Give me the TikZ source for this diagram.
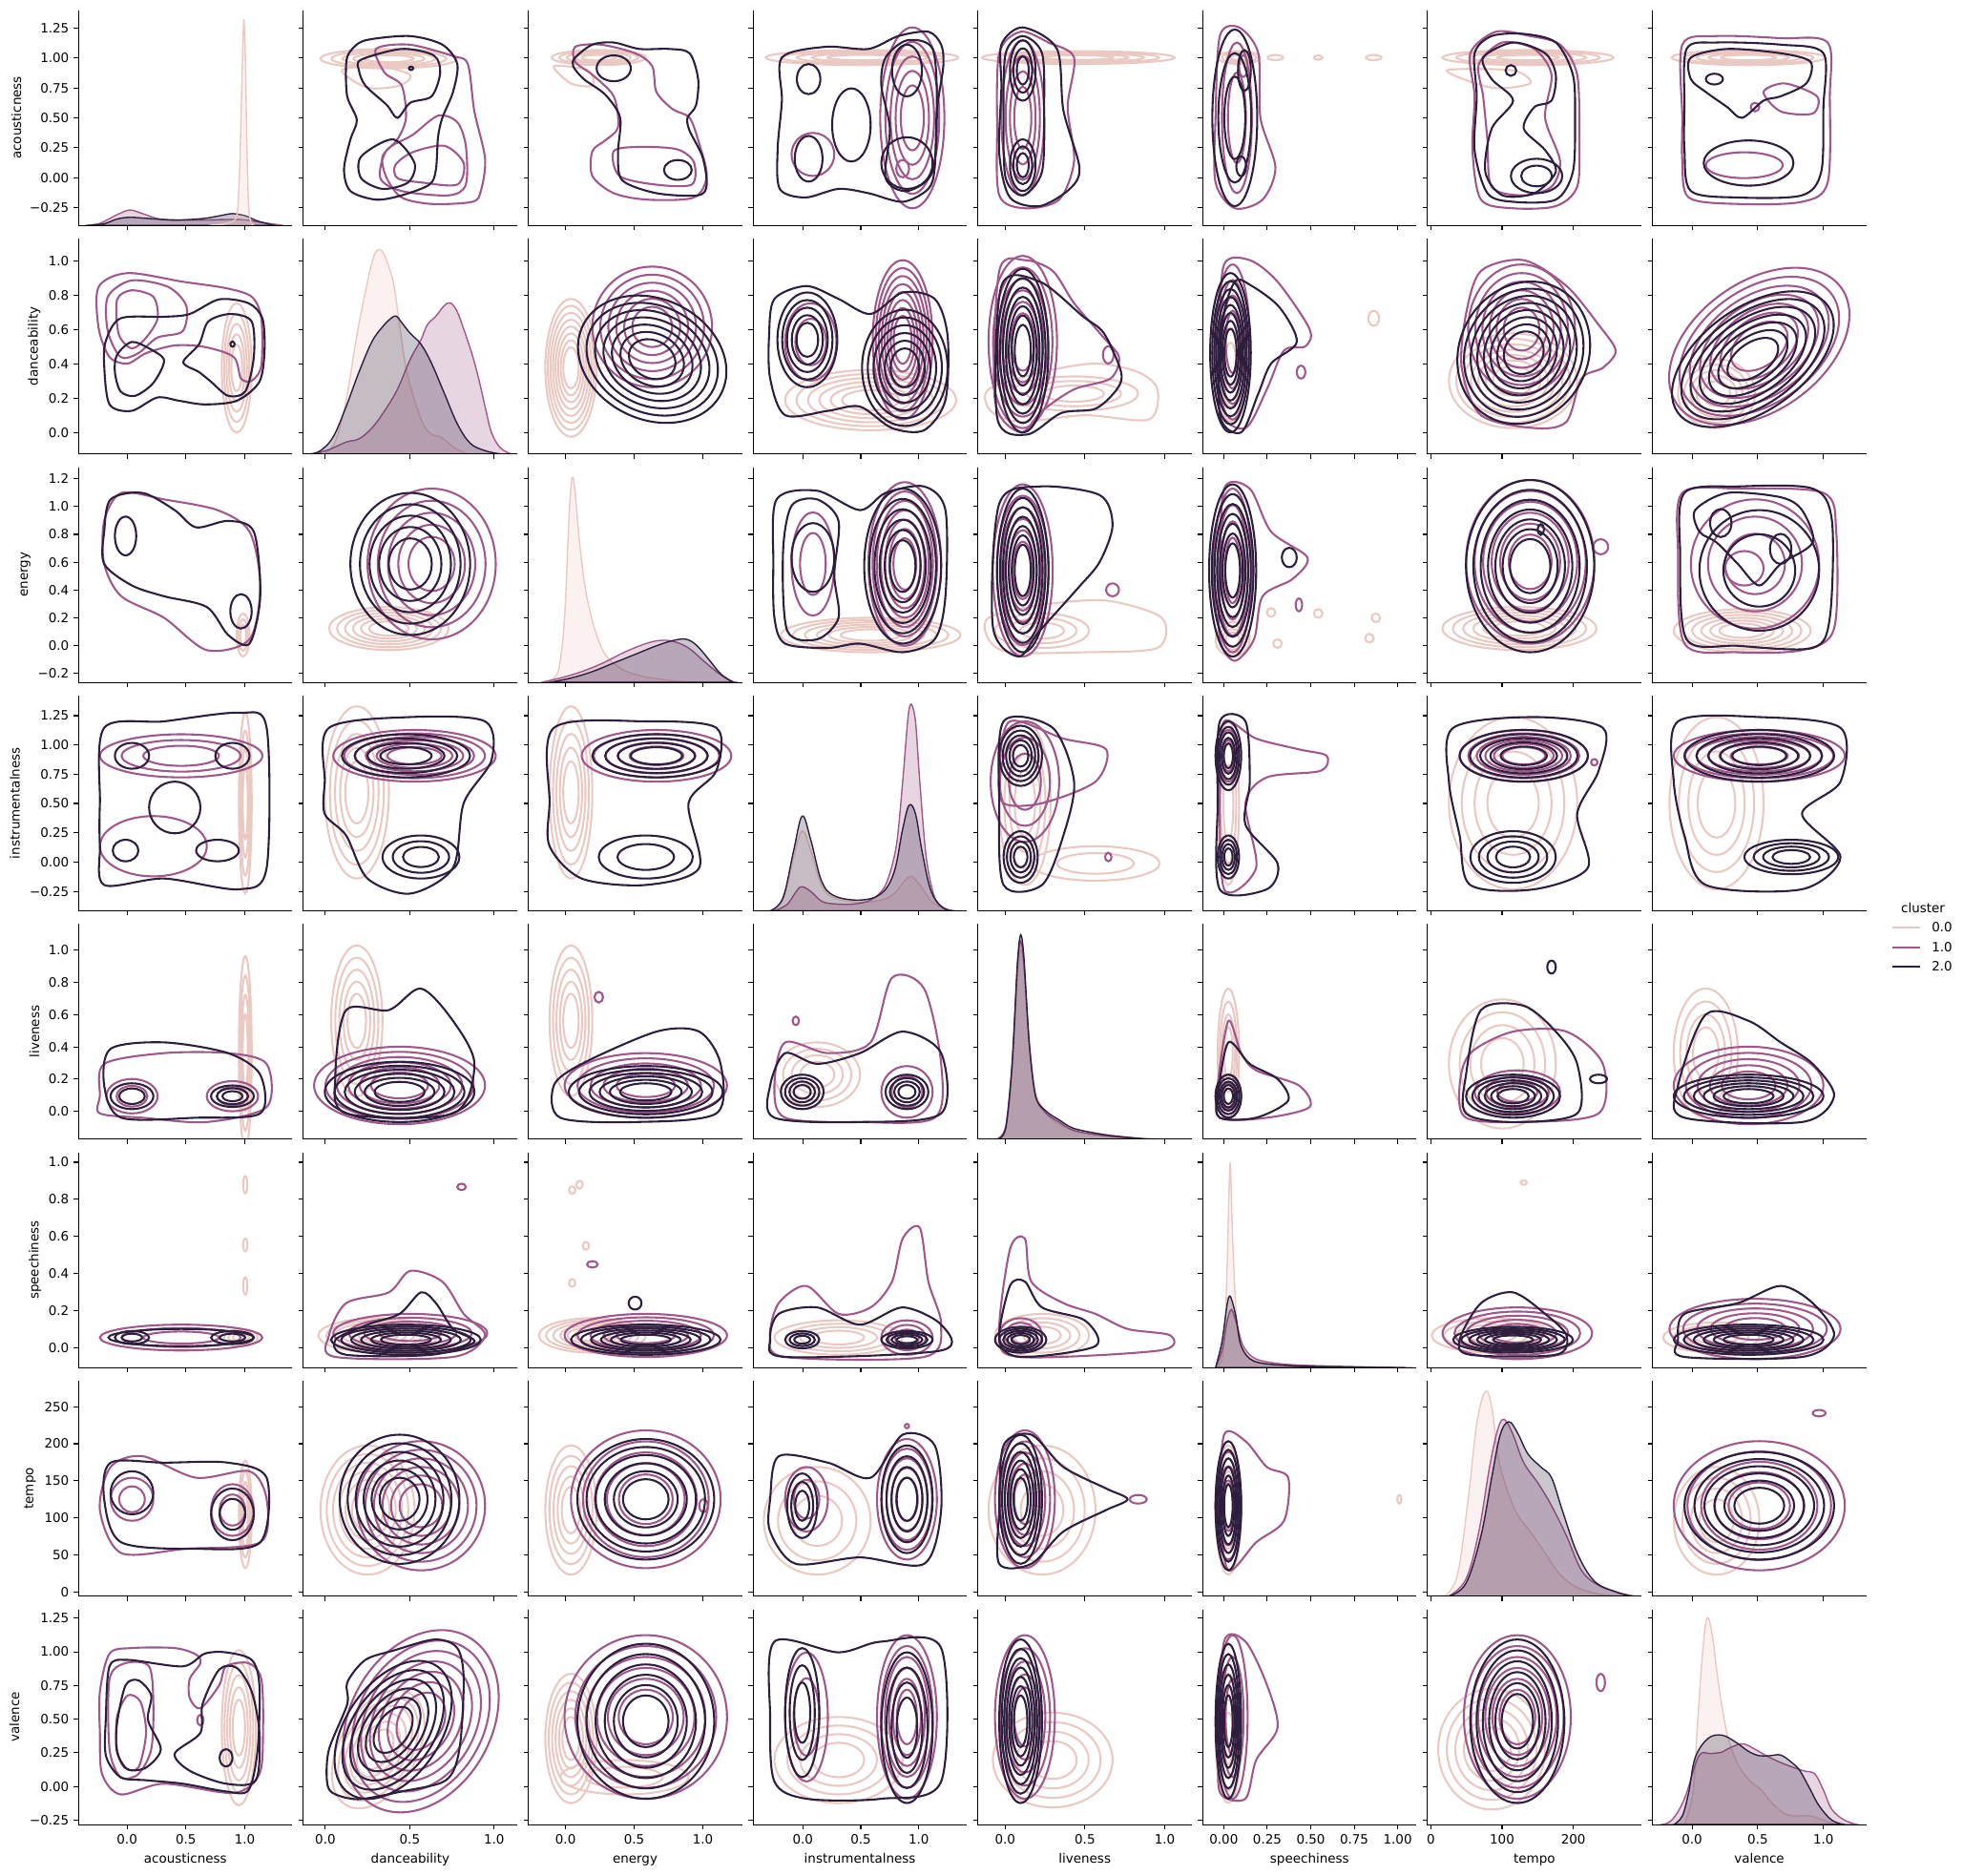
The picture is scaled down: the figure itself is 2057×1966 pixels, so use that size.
\documentclass[tikz,border=0pt]{standalone}
\usepackage{fontspec}
\setmainfont{DejaVu Sans}
\definecolor{clA}{HTML}{EBC9C3}
\definecolor{clB}{HTML}{A0588A}
\definecolor{clC}{HTML}{2D1E3E}
\tikzset{
  c0/.style={draw=clA, line width=1.5pt},
  c1/.style={draw=clB, line width=1.5pt},
  c2/.style={draw=clC, line width=1.5pt},
  k0/.style={draw=clA, fill=clA, fill opacity=0.25, line width=1pt},
  k1/.style={draw=clB, fill=clB, fill opacity=0.25, line width=1pt},
  k2/.style={draw=clC, fill=clC, fill opacity=0.25, line width=1pt},
  spine/.style={line width=0.8pt},
  tlab/.style={font=\fontsize{9.7}{11.6}\selectfont, inner sep=0pt},
  panel/.style 2 args={shift={({82.3+(#2-1)*235.6},{236.3+(#1-1)*239.4})}, xscale=2.24, yscale=-2.256},
}
% nested kde rings: [angle]{style}{cx}{cy}{rx}{ry}{levels}
\newcommand{\rings}[7][0]{%
  \foreach \k in {1,...,#7}{%
    \pgfmathsetmacro{\rf}{1-(\k-1)*0.8/#7}%
    \draw[#2, rotate around={#1:(#3,#4)}] (#3,#4) ellipse [x radius={#5*\rf}, y radius={#6*\rf}];
  }}
\begin{document}
\begin{tikzpicture}[x=0.72pt, y=-0.72pt]
\useasboundingbox (0,0) rectangle (2057,1966);

%% row 1: acousticness
\begin{scope}[panel={1}{1}]
\clip (0,0) rectangle (100,100);
\filldraw[k1] plot[smooth, tension=0.5] coordinates {(3,0) (10,1) (18,5) (24,7.2) (30,5.5) (38,3) (50,2.5) (62,2.6) (70,2.8) (78,2.6) (85,1.5) (96,0)} -- cycle;
\filldraw[k2] plot[smooth, tension=0.5] coordinates {(4,0) (12,0.8) (18,3) (24,3.8) (32,3.3) (45,2.5) (58,3.2) (66,4.5) (72,5.5) (78,4.5) (84,2) (92,0)} -- cycle;
\filldraw[k0] plot[smooth, tension=0.4] coordinates {(61,0) (66,0.5) (70,1.2) (73,2.5) (74.5,8) (75.5,30) (76.5,70) (77.3,95.5) (78,80) (78.7,40) (79.5,10) (80.5,2) (82,0)} -- cycle;
\end{scope}
\begin{scope}[panel={1}{2}]
\clip (0,0) rectangle (100,100);
\rings{c0}{40}{77.5}{32}{4.5}{5}
\draw[c0] plot[smooth cycle] coordinates {(18,72) (30,64) (45,65) (50,70) (35,74)};
\draw[c1] plot[smooth cycle] coordinates {(34,82) (49.6,84) (70,78.7) (76.9,75) (80,53) (85,31) (83,16) (79,11) (60,10) (46,13) (39,22) (37,32) (44,40) (48,50) (46,65) (38,71)};
\draw[c1] plot[smooth cycle] coordinates {(36,22) (39,35) (51,42) (63,51) (72,48) (76,37) (76,19) (68,14) (46,16)};
\draw[c1] plot[smooth cycle] coordinates {(43,28) (51,34) (66,37) (75,29) (72,19) (55,20) (44,22)};
\draw[c2] plot[smooth cycle] coordinates {(29,86) (49.6,88) (65,84) (72,75) (70,62) (65,50) (63,41) (62,26) (59,19) (46,14) (34,12) (22,16) (19,26) (22,40) (25,49) (20.5,60) (20,75) (22,81)};
\draw[c2] plot[smooth cycle] coordinates {(27,77) (46,82) (61,79) (64,71) (60,60) (50,57) (44,50) (39,56) (29,65) (26,72)};
\draw[c2] plot[smooth cycle] coordinates {(27,32) (42,40) (52,29) (49,20) (37,17) (27,22)};
\rings{c2}{50.4}{73}{1}{0.8}{1}
\end{scope}
\begin{scope}[panel={1}{3}]
\clip (0,0) rectangle (100,100);
\rings{c0}{33}{78}{22}{3.5}{5}
\draw[c0] plot[smooth cycle] coordinates {(12,74) (20,66) (30,65) (28,72)};
\draw[c1] plot[smooth cycle] coordinates {(22,83) (34,84) (50,80) (58,74) (60,62) (67.6,54) (75.5,50) (80,38) (83.5,23) (77.5,13) (55.7,12) (40,15) (30,23) (30,34.5) (36,39.5) (42,45.6) (40,60) (30,70) (22,76)};
\draw[c1] plot[smooth cycle] coordinates {(40,34.5) (52,36.5) (69.6,35.4) (77.5,29.4) (76.5,19) (59.6,19) (42.7,23)};
\draw[c2] plot[smooth cycle] coordinates {(22,78) (30,84) (40,85) (52,82) (66,82) (75.5,80) (79.5,68) (78.5,55.8) (74.5,50) (75.5,44) (81.5,32) (83.5,19) (79.5,14) (60,15) (44,21) (42,33.5) (43,50) (36,60.8) (26,68) (21,74)};
\rings{c2}{40}{73}{8}{6}{1}
\rings{c2}{70}{25.8}{6.5}{4.6}{1}
\end{scope}
\begin{scope}[panel={1}{4}]
\clip (0,0) rectangle (100,100);
\rings{c0}{51}{78}{45}{3.5}{5}
\rings{c1}{74.5}{50}{15}{42}{5}
\rings{c1}{70}{26.4}{3}{4}{1}
\rings{c1}{28}{33}{10}{10}{1}
\draw[c2] plot[smooth cycle] coordinates {(13.5,78) (34,83) (54,82) (68,88) (82,90) (88,84) (89,74) (86,53.5) (85,27) (82,17) (70,11) (54,15) (40,17) (24.5,13) (12.5,17) (11.5,35.5) (13.5,58)};
\draw[c2] plot[smooth cycle] coordinates {(62,78) (72,86) (84,82) (86,55) (84,25) (72,16) (62,22) (64,45) (60,65)};
\rings{c2}{26}{68}{5.5}{7}{1}
\rings{c2}{26}{31}{6.5}{10.6}{1}
\rings{c2}{46}{46.7}{9}{17}{1}
\rings{c2}{72}{72}{7}{12}{1}
\rings{c2}{72}{29}{12}{12}{1}
\end{scope}
\begin{scope}[panel={1}{5}]
\clip (0,0) rectangle (100,100);
\rings{c0}{47}{78}{45}{3}{5}
\draw[c1] plot[smooth cycle] coordinates {(10,80) (20,90) (33,85) (45,78) (42,55) (45,30) (38,12) (22,8) (10,14) (9,45)};
\rings{c1}{21}{50}{10}{36}{4}
\draw[c2] plot[smooth cycle] coordinates {(11,84) (21,92) (37,82) (40,53.5) (47.5,27) (43,17) (29,9) (15,13) (10,33.5) (11,64)};
\draw[c2] plot[smooth cycle] coordinates {(13,80) (21,88) (30,80) (31,55) (30,25) (21,14) (13,22) (12,50)};
\rings{c2}{21}{72}{6}{14}{3}
\rings{c2}{21}{28}{6}{12}{3}
\end{scope}
\begin{scope}[panel={1}{6}]
\clip (0,0) rectangle (100,100);
\rings{c0}{17}{78}{10}{3}{4}
\rings{c0}{34}{78}{3.6}{1.2}{1}
\rings{c0}{54}{78}{2}{1}{1}
\rings{c0}{80}{78}{3.6}{1.2}{1}
\draw[c1] plot[smooth cycle] coordinates {(6,50) (8,88) (17,92) (26,80) (27,50) (34,27) (28,12) (15,8) (6,20)};
\rings{c1}{16}{50}{7}{35}{2}
\rings{c1}{19}{74}{2}{5}{1}
\rings{c2}{15}{50}{10.5}{41}{3}
\rings{c2}{19.5}{72}{3}{9.5}{1}
\rings{c2}{18}{27.5}{2.3}{4.6}{1}
\end{scope}
\begin{scope}[panel={1}{7}]
\clip (0,0) rectangle (100,100);
\rings{c0}{47}{78}{40}{3.5}{5}
\draw[c0] plot[smooth cycle] coordinates {(9,72) (30,64) (48,66) (40,72)};
\draw[c1] plot[smooth cycle] coordinates {(20,80) (32,90) (48,88) (62,84) (70,70) (71,40) (70,18) (60,9) (40,8) (25,12) (21,35) (22,60)};
\draw[c1] plot[smooth cycle] coordinates {(24,75) (35,85) (50,82) (58,70) (55,50) (62,30) (58,18) (45,14) (30,18) (28,40) (26,60)};
\draw[c2] plot[smooth cycle] coordinates {(22,80) (30,88) (45,89) (60,85) (68,70) (69,50) (68,25) (60,12) (40,11) (28,15) (22,35) (23,60)};
\draw[c2] plot[smooth cycle] coordinates {(26,78) (40,85) (55,80) (60,70) (58,58) (50,55) (45,45) (55,35) (60,25) (50,15) (35,14) (27,25) (30,45) (40,58) (30,68)};
\rings{c2}{39}{72}{2.5}{2.5}{1}
\rings{c2}{51}{23}{12}{8}{2}
\end{scope}
\begin{scope}[panel={1}{8}]
\clip (0,0) rectangle (100,100);
\rings{c0}{45}{78}{36}{3.5}{5}
\draw[c1] plot[smooth cycle] coordinates {(14,50) (14,84) (30,88) (60,87) (82,85) (83,60) (82,20) (70,11) (40,10) (17,13) (14,30)};
\draw[c1] plot[smooth cycle] coordinates {(52,62) (62,66) (77,60) (75,52) (60,53)};
\rings{c1}{43}{28}{18}{6}{1}
\rings{c1}{48}{55}{2}{2}{1}
\draw[c2] plot[smooth cycle] coordinates {(15,55) (16,82) (30,85) (60,84) (80,80) (80,55) (79,25) (70,14) (40,13) (18,16) (15,35)};
\draw[c2] plot[smooth cycle] coordinates {(18,78) (35,82) (60,80) (74,76) (72,66) (60,60) (52,58) (42,50) (35,55) (25,62) (18,68)};
\rings{c2}{45}{29}{21}{10.5}{1}
\rings{c2}{29}{68}{4}{2.5}{1}
\end{scope}

%% row 2: danceability
\begin{scope}[panel={2}{1}]
\clip (0,0) rectangle (100,100);
\rings{c0}{74}{40}{7}{30}{5}
\draw[c1] plot[smooth cycle] coordinates {(9.4,77.6) (23,84) (48.7,80) (69,77) (81,73) (85.5,63) (85.5,41) (81,34) (76,35) (72.6,45) (59,49.7) (45,50.4) (31.6,46.8) (23,42) (14.5,45) (9.4,58.5)};
\draw[c1] plot[smooth cycle] coordinates {(13.7,73) (24.8,80.6) (41.9,77.6) (50.4,68.8) (48.7,57) (36.8,54) (28,46.8) (19.7,45) (13.7,57)};
\draw[c1] plot[smooth cycle] coordinates {(18,71.6) (24.8,76) (35,73) (37,63) (31.6,54) (25,49) (18.8,55.6)};
\draw[c2] plot[smooth cycle] coordinates {(12.8,52.6) (19.7,63) (40,63.7) (52,65) (65.8,71.8) (79.5,70) (86,63) (87,48) (84.6,33.5) (74,24.7) (59,23) (47,24.7) (36.8,26.2) (24.8,20) (14.5,23) (12,41)};
\draw[c2] plot[smooth cycle] coordinates {(18,46) (24.8,52) (33,49) (40,43.5) (35,33) (26.5,27) (19.7,29) (17,38)};
\draw[c2] plot[smooth cycle] coordinates {(49,42.6) (56.4,51) (60.7,61.5) (71,65) (81,61.5) (82,45) (78,29) (70,27) (62,33.5) (56.4,38)};
\rings{c2}{72}{51}{1}{1.2}{1}
\end{scope}
\begin{scope}[panel={2}{2}]
\clip (0,0) rectangle (100,100);
\filldraw[k0] plot[smooth, tension=0.6] coordinates {(10,0) (15,6) (20,25) (25,55) (30,80) (33,92) (35.5,95) (38,92) (42,80) (45,60) (48,40) (52,25) (56,14) (60,9) (64,8) (68,5) (72,2) (77,0)} -- cycle;
\filldraw[k1] plot[smooth, tension=0.6] coordinates {(5,0) (12,2) (20,5.5) (26,7) (32,12) (38,20) (44,30) (50,44) (55,53) (58,60) (62,64) (66,69) (69,70) (72,66) (75,58) (79,46) (82,35) (85,22) (88,10) (92,3) (97,0)} -- cycle;
\filldraw[k2] plot[smooth, tension=0.6] coordinates {(3,0) (8,1.5) (14,8) (20,22) (26,38) (32,52) (37,59) (41,63) (43.5,64) (46,61) (50,56) (55,51) (60,42) (66,28) (72,14) (78,5) (85,1.5) (92,0)} -- cycle;
\end{scope}
\begin{scope}[panel={2}{3}]
\clip (0,0) rectangle (100,100);
\rings{c0}{20}{40}{12}{32}{8}
\rings{c1}{58}{59}{28}{28}{6}
\rings[25]{c2}{58}{44}{36}{28}{7}
\end{scope}
\begin{scope}[panel={2}{4}]
\clip (0,0) rectangle (100,100);
\rings{c0}{55}{25}{40}{14}{6}
\rings{c1}{70}{53}{14}{37}{8}
\rings{c1}{27}{52}{12}{18}{2}
\draw[c2] plot[smooth cycle] coordinates {(7.5,55) (10,72) (25,78) (40,72) (55,65) (70,75) (85,72) (91,55) (90,25) (80,11) (65,12) (50,22) (35,20) (15,18) (8,35)};
\rings{c2}{25.4}{53}{14}{22}{5}
\rings{c2}{71}{40}{20}{27}{6}
\end{scope}
\begin{scope}[panel={2}{5}]
\clip (0,0) rectangle (100,100);
\draw[c0] plot[smooth cycle] coordinates {(5,30) (30,38) (55,42) (75,38) (84,30) (80,16) (50,18) (20,15) (6,20)};
\rings{c0}{45}{28}{30}{8}{3}
\rings{c1}{21}{52}{16}{40}{6}
\draw[c1] plot[smooth cycle] coordinates {(10,85) (22,90) (35,85) (45,70) (58,55) (66,45) (62,35) (45,30) (30,20) (20,10) (8,25)};
\rings{c1}{61}{46}{2.5}{4}{1}
\draw[c2] plot[smooth cycle] coordinates {(11,78) (29,80) (49,64) (59,56) (67,38) (65,30) (55,21) (39,19) (23,9) (9,17)};
\rings{c2}{21}{48}{12}{38}{7}
\end{scope}
\begin{scope}[panel={2}{6}]
\clip (0,0) rectangle (100,100);
\rings{c0}{13}{40}{6}{25}{3}
\rings{c0}{80}{63}{2.5}{3.5}{1}
\draw[c1] plot[smooth cycle] coordinates {(8,55) (10,88) (22,90) (35,80) (50,58) (48,50) (38,48) (30,30) (20,12) (8,20)};
\rings{c1}{14}{52}{8}{36}{4}
\rings{c1}{46}{38}{2}{3}{1}
\draw[c2] plot[smooth cycle] coordinates {(9,60) (15,80) (23,78) (36,68) (44,52) (32,42) (26,28) (18,10) (8,18)};
\rings{c2}{13}{47}{9.5}{37}{8}
\end{scope}
\begin{scope}[panel={2}{7}]
\clip (0,0) rectangle (100,100);
\rings{c0}{40}{34}{30}{22}{7}
\draw[c1] plot[smooth cycle] coordinates {(18,65) (25,85) (45,90) (65,78) (80,60) (88,48) (82,40) (72,35) (65,15) (50,12) (25,18) (16,40)};
\rings{c1}{44}{58}{25}{30}{6}
\rings[30]{c2}{45}{47}{30}{34}{8}
\end{scope}
\begin{scope}[panel={2}{8}]
\clip (0,0) rectangle (100,100);
\rings{c0}{30}{28}{18}{16}{5}
\rings[-35]{c1}{50}{50}{47}{30}{7}
\rings[-35]{c2}{47}{44}{43}{24}{7}
\end{scope}

%% row 3: energy
\begin{scope}[panel={3}{1}]
\clip (0,0) rectangle (100,100);
\rings{c0}{77}{22}{3}{10}{3}
\draw[c1] plot[smooth cycle] coordinates {(12,75) (20,88) (40,85) (65,80) (80,70) (85,45) (80,20) (60,15) (40,30) (20,40) (12,55)};
\draw[c2] plot[smooth cycle] coordinates {(12,70) (15,85) (30,88) (45,80) (55,72) (70,75) (82,70) (85,40) (80,18) (70,22) (60,35) (40,40) (25,45) (12,55)};
\rings{c2}{22}{68}{5}{9}{1}
\rings{c2}{76}{33}{5}{8}{1}
\end{scope}
\begin{scope}[panel={3}{2}]
\clip (0,0) rectangle (100,100);
\rings{c0}{40}{25}{28}{10}{6}
\rings{c1}{60}{55}{30}{35}{5}
\rings{c2}{50}{55}{28}{33}{5}
\end{scope}
\begin{scope}[panel={3}{3}]
\clip (0,0) rectangle (100,100);
\filldraw[k0] plot[smooth, tension=0.5] coordinates {(8,0) (14,5) (17,30) (19,75) (20.5,95) (22,88) (24,65) (27,42) (31,25) (36,13) (44,6) (55,2.5) (70,0.5) (80,0)} -- cycle;
\filldraw[k1] plot[smooth, tension=0.6] coordinates {(6,0) (15,2) (25,5) (35,9) (45,14) (55,18) (62,19.5) (68,19) (75,16) (82,10) (88,5) (94,1) (98,0)} -- cycle;
\filldraw[k2] plot[smooth, tension=0.6] coordinates {(10,0) (20,2) (30,5) (40,9) (50,13) (60,17) (68,19.5) (74,20) (79,17) (85,10) (90,4) (96,0)} -- cycle;
\end{scope}
\begin{scope}[panel={3}{4}]
\clip (0,0) rectangle (100,100);
\rings{c0}{55}{22}{42}{8}{6}
\rings{c1}{71}{55}{17}{38}{7}
\rings{c1}{28}{55}{10}{24}{2}
\draw[c2] plot[smooth cycle] coordinates {(9.5,55) (11,85) (30,89) (50,80) (62,88) (80,91) (90,80) (90,40) (85,20) (70,14) (50,18) (35,16) (15,18) (10,30)};
\draw[c2] plot[smooth cycle] coordinates {(14,60) (18,82) (30,85) (40,75) (38,50) (40,30) (30,20) (16,24)};
\rings{c2}{28}{58}{10}{16}{1}
\rings{c2}{70}{54}{18}{36}{6}
\end{scope}
\begin{scope}[panel={3}{5}]
\clip (0,0) rectangle (100,100);
\draw[c0] plot[smooth cycle] coordinates {(5,30) (30,36) (60,38) (86,30) (84,16) (50,14) (15,14) (5,20)};
\rings{c0}{30}{24}{22}{8}{3}
\rings{c1}{21}{52}{14}{40}{6}
\rings{c1}{63}{43}{3}{3}{1}
\draw[c2] plot[smooth cycle] coordinates {(10,83) (29,91) (57,87) (63,73) (57,56) (47,44) (29,24) (19,12) (7,26)};
\rings{c2}{21}{52}{12}{38}{7}
\end{scope}
\begin{scope}[panel={3}{6}]
\clip (0,0) rectangle (100,100);
\rings{c0}{14}{20}{8}{8}{4}
\foreach \px/\py in {32/32.5, 54/32, 81/30, 78/20.5, 35/18}{\rings{c0}{\px}{\py}{2}{2}{1}}
\draw[c1] plot[smooth cycle] coordinates {(8,50) (10,90) (22,90) (32,70) (49,58) (42,48) (28,40) (24,20) (15,10) (8,20)};
\rings{c1}{14}{52}{9}{38}{4}
\rings{c1}{45}{36}{1.5}{3}{1}
\rings{c2}{14}{52}{11}{40}{7}
\rings{c2}{40.5}{58}{3.5}{4.5}{1}
\end{scope}
\begin{scope}[panel={3}{7}]
\clip (0,0) rectangle (100,100);
\rings{c0}{43}{25}{36}{10}{6}
\rings{c1}{48}{56}{30}{38}{6}
\rings{c1}{81}{63}{3.5}{3.5}{1}
\rings{c2}{48}{54}{30}{40}{7}
\rings{c2}{53}{71}{1.5}{2.5}{1}
\end{scope}
\begin{scope}[panel={3}{8}]
\clip (0,0) rectangle (100,100);
\rings{c0}{42}{24}{32}{10}{6}
\draw[c1] plot[smooth cycle] coordinates {(12,60) (14,88) (40,90) (80,88) (86,70) (85,25) (70,15) (40,14) (15,18)};
\rings{c1}{48}{55}{30}{30}{3}
\rings{c1}{43}{53}{9}{8}{1}
\draw[c2] plot[smooth cycle] coordinates {(13,60) (15,88) (40,91) (75,90) (84,75) (83,30) (75,16) (40,17) (16,20)};
\draw[c2] plot[smooth cycle] coordinates {(20,80) (35,88) (60,86) (70,80) (75,65) (60,55) (50,45) (40,55) (30,65) (22,70)};
\rings{c2}{32}{74}{5}{6.5}{1}
\rings{c2}{60}{62}{5}{7}{1}
\rings{c2}{50}{52}{28}{28}{2}
\end{scope}

%% row 4: instrumentalness
\begin{scope}[panel={4}{1}]
\clip (0,0) rectangle (100,100);
\rings{c0}{78}{50}{3}{42}{4}
\rings{c1}{48}{72}{38}{10}{3}
\rings{c1}{35}{30}{25}{14}{1}
\draw[c2] plot[smooth cycle] coordinates {(10,50) (12,85) (40,88) (75,92) (88,85) (88,20) (75,10) (40,15) (12,12) (10,30)};
\rings{c2}{25}{72}{8}{6}{1}
\rings{c2}{72}{72}{8}{6}{1}
\rings{c2}{22}{28}{6}{5}{1}
\rings{c2}{65}{28}{10}{5}{1}
\rings{c2}{45}{48}{12}{12}{1}
\end{scope}
\begin{scope}[panel={4}{2}]
\clip (0,0) rectangle (100,100);
\rings{c0}{25}{55}{15}{40}{5}
\rings{c1}{52}{72}{38}{12}{6}
\draw[c2] plot[smooth cycle] coordinates {(10,60) (12,85) (50,90) (85,88) (88,70) (75,50) (70,20) (50,8) (30,15) (20,35) (10,45)};
\rings{c2}{48}{72}{30}{10}{4}
\rings{c2}{55}{25}{18}{10}{3}
\end{scope}
\begin{scope}[panel={4}{3}]
\clip (0,0) rectangle (100,100);
\rings{c0}{20}{55}{10}{40}{5}
\rings{c1}{60}{72}{35}{12}{5}
\draw[c2] plot[smooth cycle] coordinates {(10,50) (12,85) (55,88) (88,85) (88,65) (75,50) (80,20) (55,12) (25,15) (10,30)};
\rings{c2}{60}{72}{30}{10}{4}
\rings{c2}{55}{25}{22}{10}{2}
\end{scope}
\begin{scope}[panel={4}{4}]
\clip (0,0) rectangle (100,100);
\filldraw[k0] plot[smooth, tension=0.6] coordinates {(8,0) (14,5) (19,25) (23,37) (27,28) (32,12) (38,6) (50,4) (60,5) (66,8) (71,14) (74,16) (78,12) (84,4) (92,0)} -- cycle;
\filldraw[k1] plot[smooth, tension=0.5] coordinates {(10,0) (16,3) (22,11) (27,9) (33,4) (45,3) (55,5) (62,12) (67,30) (70,60) (72.5,90) (74,96) (76,88) (78,60) (81,25) (85,6) (90,1) (95,0)} -- cycle;
\filldraw[k2] plot[smooth, tension=0.6] coordinates {(8,0) (14,6) (19,28) (23,44) (27,33) (32,14) (38,7) (50,5) (60,8) (66,18) (70,38) (73,49) (76,45) (79,28) (83,10) (88,2) (93,0)} -- cycle;
\end{scope}
\begin{scope}[panel={4}{5}]
\clip (0,0) rectangle (100,100);
\rings{c0}{22}{50}{12}{38}{4}
\rings{c0}{55}{22}{30}{8}{2}
\draw[c1] plot[smooth cycle] coordinates {(10,65) (15,88) (40,80) (60,75) (55,60) (30,50) (12,50)};
\rings{c1}{22}{60}{16}{28}{3}
\draw[c2] plot[smooth cycle] coordinates {(10,50) (12,88) (35,85) (45,60) (40,35) (30,12) (12,12)};
\rings{c2}{20}{72}{10}{14}{5}
\rings{c2}{20}{25}{8}{12}{4}
\rings{c1}{61}{25}{1.5}{2}{1}
\end{scope}
\begin{scope}[panel={4}{6}]
\clip (0,0) rectangle (100,100);
\rings{c0}{12}{50}{5}{38}{3}
\draw[c1] plot[smooth cycle] coordinates {(8,60) (10,88) (25,80) (45,75) (58,72) (55,65) (30,62) (20,50) (25,20) (10,10)};
\rings{c1}{12}{72}{5}{12}{2}
\draw[c2] plot[smooth cycle] coordinates {(7,50) (8,88) (20,88) (22,60) (20,40) (35,22) (30,10) (8,10)};
\rings{c2}{12}{72}{6}{16}{5}
\rings{c2}{12}{25}{5}{10}{4}
\end{scope}
\begin{scope}[panel={4}{7}]
\clip (0,0) rectangle (100,100);
\rings{c0}{40}{50}{30}{40}{4}
\rings{c1}{45}{72}{30}{12}{6}
\draw[c2] plot[smooth cycle] coordinates {(10,60) (12,85) (50,90) (82,85) (80,65) (70,45) (75,20) (50,10) (20,12) (15,35)};
\rings{c2}{45}{72}{30}{12}{5}
\rings{c2}{40}{25}{20}{12}{4}
\rings{c1}{78}{69}{1.5}{1.5}{1}
\end{scope}
\begin{scope}[panel={4}{8}]
\clip (0,0) rectangle (100,100);
\rings{c0}{30}{50}{22}{40}{4}
\rings{c1}{50}{72}{40}{12}{6}
\draw[c2] plot[smooth cycle] coordinates {(10,60) (12,88) (50,90) (88,85) (88,60) (70,45) (88,25) (70,10) (25,12) (15,35)};
\rings{c2}{50}{72}{35}{12}{5}
\rings{c2}{65}{25}{22}{8}{4}
\end{scope}

%% row 5: liveness
\begin{scope}[panel={5}{1}]
\clip (0,0) rectangle (100,100);
\rings{c0}{78}{40}{3}{45}{4}
\draw[c1] plot[smooth cycle] coordinates {(10,20) (12,35) (40,40) (70,40) (88,35) (88,15) (60,8) (30,10) (10,12)};
\rings{c1}{25}{20}{12}{8}{2}
\rings{c1}{72}{20}{12}{7}{2}
\draw[c2] plot[smooth cycle] coordinates {(12,25) (15,42) (40,45) (70,40) (85,30) (85,12) (55,10) (20,10)};
\rings{c2}{25}{20}{10}{6}{2}
\rings{c2}{72}{20}{10}{5}{3}
\end{scope}
\begin{scope}[panel={5}{2}]
\clip (0,0) rectangle (100,100);
\rings{c0}{25}{55}{12}{35}{5}
\rings{c1}{45}{25}{40}{18}{6}
\draw[c2] plot[smooth cycle] coordinates {(15,30) (20,60) (40,60) (55,70) (70,55) (80,35) (70,12) (20,12)};
\rings{c2}{45}{22}{35}{14}{6}
\end{scope}
\begin{scope}[panel={5}{3}]
\clip (0,0) rectangle (100,100);
\rings{c0}{20}{55}{10}{35}{5}
\rings{c1}{55}{25}{38}{15}{5}
\rings{c1}{33}{66}{2}{2.5}{1}
\draw[c2] plot[smooth cycle] coordinates {(12,25) (25,35) (60,50) (80,50) (90,35) (88,12) (50,8) (15,10)};
\rings{c2}{55}{22}{36}{12}{6}
\end{scope}
\begin{scope}[panel={5}{4}]
\clip (0,0) rectangle (100,100);
\rings{c0}{30}{30}{20}{15}{4}
\draw[c1] plot[smooth cycle] coordinates {(10,25) (15,45) (35,40) (55,45) (65,75) (80,70) (88,35) (85,10) (50,8) (15,10)};
\rings{c1}{72}{22}{12}{12}{2}
\rings{c1}{20}{55}{1.5}{2}{1}
\draw[c2] plot[smooth cycle] coordinates {(8,25) (15,40) (30,35) (50,40) (70,50) (88,40) (88,12) (50,8) (10,10)};
\rings{c2}{23}{22}{10}{8}{4}
\rings{c2}{72}{22}{10}{8}{4}
\end{scope}
\begin{scope}[panel={5}{5}]
\clip (0,0) rectangle (100,100);
\filldraw[k0] plot[smooth, tension=0.5] coordinates {(8,0) (13,5) (16,30) (18.5,75) (20,88) (21.5,80) (24,45) (27,22) (32,12) (40,6) (55,3) (70,1) (90,0)} -- cycle;
\filldraw[k1] plot[smooth, tension=0.5] coordinates {(9,0) (13,6) (16,35) (18.5,80) (20,92) (21.5,82) (24,45) (27,20) (32,12) (38,8) (45,4) (60,1.5) (80,0)} -- cycle;
\filldraw[k2] plot[smooth, tension=0.5] coordinates {(9,0) (13,5) (16,35) (18.5,82) (20,95) (21.5,85) (24,45) (27,20) (32,13) (38,9) (45,5) (60,2) (80,0)} -- cycle;
\end{scope}
\begin{scope}[panel={5}{6}]
\clip (0,0) rectangle (100,100);
\rings{c0}{12}{40}{5}{30}{4}
\draw[c1] plot[smooth cycle] coordinates {(7,25) (12,55) (18,40) (25,32) (45,25) (50,15) (30,10) (8,10)};
\rings{c1}{12}{20}{6}{10}{2}
\draw[c2] plot[smooth cycle] coordinates {(7,20) (12,45) (22,35) (35,28) (40,18) (25,10) (8,10)};
\rings{c2}{12}{20}{6}{10}{5}
\end{scope}
\begin{scope}[panel={5}{7}]
\clip (0,0) rectangle (100,100);
\rings{c0}{35}{35}{25}{30}{4}
\draw[c1] plot[smooth cycle] coordinates {(15,25) (20,40) (40,50) (65,50) (82,35) (80,12) (45,8) (18,10)};
\rings{c1}{42}{22}{20}{10}{3}
\draw[c2] plot[smooth cycle] coordinates {(18,30) (25,60) (45,62) (60,50) (70,35) (70,12) (40,8) (18,12)};
\rings{c2}{40}{20}{22}{10}{6}
\rings{c2}{58}{80}{2}{3}{1}
\rings{c2}{80}{28}{4}{2}{1}
\end{scope}
\begin{scope}[panel={5}{8}]
\clip (0,0) rectangle (100,100);
\rings{c0}{25}{40}{15}{30}{4}
\rings{c1}{45}{25}{35}{18}{5}
\draw[c2] plot[smooth cycle] coordinates {(12,25) (25,58) (45,55) (60,45) (75,35) (85,20) (70,8) (15,10)};
\rings{c2}{45}{20}{35}{10}{6}
\end{scope}

%% row 6: speechiness
\begin{scope}[panel={6}{1}]
\clip (0,0) rectangle (100,100);
\rings{c0}{78}{85}{1}{4}{1}
\rings{c0}{78}{57}{1}{3}{1}
\rings{c0}{78}{38}{1}{4}{1}
\rings{c0}{76}{14}{8}{4}{3}
\rings{c1}{48}{14}{38}{6}{3}
\rings{c2}{48}{14}{34}{4}{1}
\rings{c2}{25}{14}{8}{3}{2}
\rings{c2}{72}{14}{10}{3}{2}
\end{scope}
\begin{scope}[panel={6}{2}]
\clip (0,0) rectangle (100,100);
\rings{c0}{35}{15}{28}{8}{6}
\draw[c1] plot[smooth cycle] coordinates {(12,15) (20,30) (40,35) (50,45) (65,40) (75,25) (85,15) (70,5) (15,5)};
\rings{c1}{50}{16}{36}{9}{4}
\rings{c1}{74}{84}{2}{1.5}{1}
\draw[c2] plot[smooth cycle] coordinates {(15,13) (30,20) (45,25) (55,35) (62,30) (70,18) (80,12) (60,6) (20,6)};
\rings{c2}{48}{13}{35}{7}{6}
\end{scope}
\begin{scope}[panel={6}{3}]
\clip (0,0) rectangle (100,100);
\rings{c0}{30}{15}{25}{8}{6}
\foreach \px/\py in {20.6/82.5, 24/85, 27/56.6, 20.6/39.4}{\rings{c0}{\px}{\py}{1.5}{1.8}{1}}
\rings{c1}{55}{15}{38}{10}{5}
\rings{c1}{30}{48}{2.5}{1.5}{1}
\rings{c2}{55}{13}{35}{7}{6}
\rings{c2}{50}{30}{3}{3}{1}
\end{scope}
\begin{scope}[panel={6}{4}]
\clip (0,0) rectangle (100,100);
\rings{c0}{40}{14}{30}{8}{4}
\draw[c1] plot[smooth cycle] coordinates {(8,15) (12,30) (25,38) (40,25) (55,28) (65,40) (70,60) (78,65) (82,40) (88,20) (80,5) (15,5)};
\rings{c1}{72}{14}{12}{8}{3}
\draw[c2] plot[smooth cycle] coordinates {(8,13) (12,25) (30,28) (50,20) (70,28) (88,20) (88,8) (15,5)};
\rings{c2}{23}{13}{8}{4}{3}
\rings{c2}{72}{13}{12}{4}{4}
\end{scope}
\begin{scope}[panel={6}{5}]
\clip (0,0) rectangle (100,100);
\rings{c0}{30}{15}{22}{10}{4}
\draw[c1] plot[smooth cycle] coordinates {(10,15) (15,55) (22,60) (25,40) (40,30) (55,25) (70,18) (90,15) (85,8) (20,5)};
\rings{c1}{20}{15}{10}{8}{3}
\draw[c2] plot[smooth cycle] coordinates {(10,13) (15,38) (22,40) (30,28) (50,22) (55,10) (20,5)};
\rings{c2}{20}{13}{12}{6}{5}
\end{scope}
\begin{scope}[panel={6}{6}]
\clip (0,0) rectangle (100,100);
\filldraw[k0] plot[smooth, tension=0.5] coordinates {(7,0) (10,10) (11.5,50) (12.8,95) (14,60) (16,20) (19,8) (25,3) (40,1) (60,0)} -- cycle;
\filldraw[k1] plot[smooth, tension=0.5] coordinates {(6,0) (9,8) (11.5,22) (13.5,27) (16,20) (19,10) (25,4) (40,1.5) (70,0.5) (98,0)} -- cycle;
\filldraw[k2] plot[smooth, tension=0.5] coordinates {(6,0) (9,12) (11.5,30) (13,33) (15.5,24) (18,10) (24,3) (40,1) (70,0.3) (95,0)} -- cycle;
\end{scope}
\begin{scope}[panel={6}{7}]
\clip (0,0) rectangle (100,100);
\rings{c0}{30}{15}{28}{8}{4}
\rings{c0}{45}{86}{1.5}{1}{1}
\rings{c1}{42}{16}{35}{12}{5}
\draw[c2] plot[smooth cycle] coordinates {(15,13) (25,30) (40,35) (55,25) (65,15) (60,6) (20,6)};
\rings{c2}{40}{13}{28}{6}{6}
\end{scope}
\begin{scope}[panel={6}{8}]
\clip (0,0) rectangle (100,100);
\rings{c0}{30}{14}{25}{7}{4}
\rings{c1}{48}{18}{40}{14}{5}
\draw[c2] plot[smooth cycle] coordinates {(12,13) (15,25) (40,30) (60,38) (75,30) (85,15) (70,5) (15,5)};
\rings{c2}{45}{13}{35}{7}{6}
\end{scope}

%% row 7: tempo
\begin{scope}[panel={7}{1}]
\clip (0,0) rectangle (100,100);
\rings{c0}{78}{38}{3}{25}{4}
\draw[c1] plot[smooth cycle] coordinates {(10,40) (15,60) (30,65) (55,55) (80,58) (88,45) (85,25) (50,22) (20,20)};
\rings{c1}{25}{45}{10}{10}{2}
\rings{c1}{72}{40}{10}{12}{2}
\draw[c2] plot[smooth cycle] coordinates {(12,45) (15,62) (40,62) (70,62) (88,55) (85,25) (55,22) (20,25)};
\rings{c2}{25}{48}{10}{10}{1}
\rings{c2}{72}{38}{10}{12}{2}
\end{scope}
\begin{scope}[panel={7}{2}]
\clip (0,0) rectangle (100,100);
\rings{c0}{30}{40}{22}{30}{6}
\rings{c1}{55}{42}{30}{30}{6}
\rings{c2}{45}{45}{28}{30}{6}
\end{scope}
\begin{scope}[panel={7}{3}]
\clip (0,0) rectangle (100,100);
\rings{c0}{20}{40}{12}{30}{5}
\rings{c1}{55}{45}{35}{32}{5}
\rings{c1}{82}{42}{2}{3}{1}
\rings{c2}{55}{45}{32}{28}{6}
\end{scope}
\begin{scope}[panel={7}{4}]
\clip (0,0) rectangle (100,100);
\rings{c0}{30}{35}{25}{25}{3}
\rings{c1}{72}{45}{14}{28}{5}
\rings{c1}{25}{45}{10}{15}{2}
\rings{c1}{72}{79}{1}{1}{1}
\draw[c2] plot[smooth cycle] coordinates {(8,45) (12,65) (35,62) (55,55) (70,75) (85,70) (88,40) (80,15) (50,18) (20,15) (8,30)};
\rings{c2}{23}{42}{7}{15}{3}
\rings{c2}{72}{45}{12}{25}{4}
\end{scope}
\begin{scope}[panel={7}{5}]
\clip (0,0) rectangle (100,100);
\rings{c0}{30}{40}{25}{30}{4}
\rings{c1}{22}{45}{14}{32}{5}
\rings{c1}{75}{45}{4}{2}{1}
\draw[c2] plot[smooth cycle] coordinates {(10,40) (12,70) (25,75) (40,60) (60,50) (70,45) (60,40) (40,30) (25,15) (10,15)};
\rings{c2}{20}{45}{10}{30}{6}
\end{scope}
\begin{scope}[panel={7}{6}]
\clip (0,0) rectangle (100,100);
\rings{c0}{12}{40}{6}{30}{4}
\rings{c0}{92}{45}{1}{2}{1}
\draw[c1] plot[smooth cycle] coordinates {(8,40) (10,75) (20,72) (30,60) (40,55) (38,35) (25,25) (12,12)};
\rings{c1}{12}{42}{6}{25}{3}
\rings{c2}{12}{42}{6}{30}{6}
\end{scope}
\begin{scope}[panel={7}{7}]
\clip (0,0) rectangle (100,100);
\filldraw[k0] plot[smooth, tension=0.6] coordinates {(8,0) (14,10) (19,45) (23,80) (27,95) (30,88) (33,65) (37,50) (42,38) (48,30) (55,20) (62,10) (70,4) (80,1) (90,0)} -- cycle;
\filldraw[k1] plot[smooth, tension=0.6] coordinates {(10,0) (18,8) (24,30) (29,60) (33,78) (36,82) (40,75) (45,62) (52,52) (58,42) (65,28) (72,12) (80,5) (90,1.5) (97,0)} -- cycle;
\filldraw[k2] plot[smooth, tension=0.6] coordinates {(10,0) (18,6) (25,28) (30,55) (34,75) (38,81) (42,76) (47,66) (53,60) (58,55) (63,40) (70,20) (78,7) (88,2) (95,0)} -- cycle;
\end{scope}
\begin{scope}[panel={7}{8}]
\clip (0,0) rectangle (100,100);
\rings{c0}{30}{35}{20}{25}{4}
\rings{c1}{50}{42}{40}{30}{5}
\rings{c1}{78}{85}{3}{1.5}{1}
\rings{c2}{50}{42}{35}{25}{6}
\end{scope}

%% row 8: valence
\begin{scope}[panel={8}{1}]
\clip (0,0) rectangle (100,100);
\rings{c0}{75}{45}{8}{36}{5}
\draw[c1] plot[smooth cycle] coordinates {(10,61.8) (14.5,79.4) (24.8,82) (45,82) (55,79) (57,75) (52,67.6) (52,58.8) (57,54) (65.8,64.7) (69,73.5) (79.5,75) (85.5,67.6) (86.3,44) (84.6,23.5) (72.6,14.7) (40,19) (19.7,14) (11,23.5) (10,42.6)};
\draw[c1] plot[smooth cycle] coordinates {(14.5,67.6) (22,75) (33,73.5) (35,55.9) (34,35) (28,23.5) (19.7,22) (14.5,35)};
\draw[c1] plot[smooth cycle] coordinates {(18,50) (23,60) (29,57) (31.6,42.6) (28,26.5) (21.4,26.5) (18,35)};
\rings{c1}{57}{48.5}{1.5}{2.5}{1}
\draw[c2] plot[smooth cycle] coordinates {(12.8,50) (14.5,73.5) (23,76.5) (48.7,73.5) (59,79.4) (69,80) (81,76.5) (84.6,64.7) (83.8,35) (79.5,16) (69,15.4) (48.7,19) (31.6,20.6) (19.7,22) (12.8,32)};
\draw[c2] plot[smooth cycle] coordinates {(18,47) (22,64.7) (28,67) (34,60) (32.5,48.5) (38.5,35) (31.6,26.5) (23,25.7) (18,33.8)};
\draw[c2] plot[smooth cycle] coordinates {(45,33) (57,42.6) (58,55.9) (65.8,72) (74,72.8) (81,61.8) (84.6,42.6) (82.9,20.6) (69,19) (52,25)};
\rings{c2}{69}{31}{3}{4}{1}
\end{scope}
\begin{scope}[panel={8}{2}]
\clip (0,0) rectangle (100,100);
\rings[-60]{c0}{35}{35}{30}{18}{6}
\rings[-60]{c1}{55}{48}{45}{33}{7}
\draw[c2] plot[smooth cycle] coordinates {(11,20.6) (12,35) (20.5,55.9) (20.5,66) (29,76.5) (42.7,81) (61.5,86) (72,82) (75,67.6) (73,35) (66.7,20.6) (46,15.4) (25.6,11.8) (13.7,14.7)};
\rings[-55]{c2}{42}{44}{36}{22}{6}
\end{scope}
\begin{scope}[panel={8}{3}]
\clip (0,0) rectangle (100,100);
\rings{c0}{20}{40}{12}{30}{6}
\rings{c0}{45}{22}{30}{8}{2}
\rings{c1}{55}{50}{38}{38}{6}
\rings{c2}{55}{48}{32}{36}{6}
\end{scope}
\begin{scope}[panel={8}{4}]
\clip (0,0) rectangle (100,100);
\rings{c0}{40}{30}{30}{20}{4}
\rings{c1}{72}{50}{14}{38}{6}
\rings{c1}{25}{50}{10}{30}{2}
\draw[c2] plot[smooth cycle] coordinates {(8,50) (10,85) (40,80) (60,85) (88,82) (88,20) (60,12) (25,12) (10,20)};
\rings{c2}{23}{52}{8}{30}{3}
\rings{c2}{72}{45}{12}{35}{4}
\end{scope}
\begin{scope}[panel={8}{5}]
\clip (0,0) rectangle (100,100);
\rings{c0}{35}{30}{28}{22}{4}
\rings{c1}{22}{50}{14}{38}{5}
\rings{c2}{20}{48}{10}{38}{7}
\end{scope}
\begin{scope}[panel={8}{6}]
\clip (0,0) rectangle (100,100);
\rings{c0}{12}{40}{6}{30}{4}
\draw[c1] plot[smooth cycle] coordinates {(8,40) (10,85) (20,85) (30,65) (35,45) (25,30) (20,12) (8,15)};
\rings{c1}{14}{50}{7}{38}{3}
\rings{c2}{12}{48}{6}{36}{6}
\end{scope}
\begin{scope}[panel={8}{7}]
\clip (0,0) rectangle (100,100);
\rings{c0}{30}{35}{25}{28}{5}
\rings{c1}{42}{50}{25}{38}{6}
\rings{c1}{81}{66}{2}{4}{1}
\rings{c2}{42}{48}{22}{38}{6}
\end{scope}
\begin{scope}[panel={8}{8}]
\clip (0,0) rectangle (100,100);
\filldraw[k0] plot[smooth, tension=0.6] coordinates {(15,0) (19,15) (21,45) (23.5,80) (25.6,96) (28,88) (31,65) (35,42) (40,28) (46,20) (51,16) (56,10) (62,5) (68,4) (74,4) (80,2) (86,0)} -- cycle;
\filldraw[k1] plot[smooth, tension=0.6] coordinates {(3.7,0) (9,2) (15,12) (21.6,31.6) (27,33) (32,33.5) (37,36) (42.4,37.5) (48,35) (54,31.6) (62,28) (70.7,25) (76,23.5) (80,16) (84,7) (90,2) (96,0)} -- cycle;
\filldraw[k2] plot[smooth, tension=0.6] coordinates {(10,0) (14,4) (17,15) (20,31) (26,40) (32.7,41.5) (39.4,38) (45,34) (50,32) (55,32) (60,32.3) (65,29) (69,25) (74,16) (78,8.7) (84,2) (90,0)} -- cycle;
\end{scope}

%% axes
\foreach \r in {1,...,8}{
  \foreach \c in {1,...,8}{
    \begin{scope}[panel={\r}{\c}]
      \draw[spine] (0,100) -- (0,0) -- (100,0);
    \end{scope}
  }
}
\foreach \c/\tl in {1/{22.69/0.0,50.22/0.5,77.75/1.0}, 2/{10.27/0.0,49.76/0.5,89.26/1.0},
    3/{17.47/0.0,49.58/0.5,81.69/1.0}, 4/{23.31/0.0,50.41/0.5,77.51/1.0},
    5/{12.76/0.0,50.07/0.5,87.39/1.0}, 6/{9.85/0.00,30.19/0.25,50.53/0.50,70.87/0.75,91.21/1.00},
    7/{1.57/0,34.87/100,68.17/200}, 8/{18.56/0.0,49.29/0.5,80.02/1.0}}{
  \foreach \r in {1,...,8}{
    \begin{scope}[panel={\r}{\c}]
      \foreach \p/\v in \tl {\draw[spine] (\p,0) -- (\p,-2.16);}
    \end{scope}
  }
  \begin{scope}[panel={8}{\c}]
    \foreach \p/\v [count=\i] in \tl {\node[tlab, anchor=north] (xt-\c-\i) at (\p,-4.3) {\v};}
  \end{scope}
}
\foreach \r/\tl in {1/{8.29/−0.25,22.19/0.00,36.10/0.25,50.00/0.50,63.90/0.75,77.81/1.00,91.71/1.25},
    2/{10.01/0.0,25.89/0.2,41.78/0.4,57.66/0.6,73.55/0.8,89.44/1.0},
    3/{4.13/−0.2,17.05/0.0,29.97/0.2,42.89/0.4,55.81/0.6,68.73/0.8,81.65/1.0,94.57/1.2},
    4/{9.03/−0.25,22.64/0.00,36.24/0.25,49.85/0.50,63.46/0.75,77.06/1.00,90.67/1.25},
    5/{12.95/0.0,27.92/0.2,42.89/0.4,57.86/0.6,72.83/0.8,87.80/1.0},
    6/{9.18/0.0,26.43/0.2,43.68/0.4,60.93/0.6,78.18/0.8,95.43/1.0},
    7/{2.00/0,19.20/50,36.40/100,53.60/150,70.80/200,88.00/250},
    8/{2.06/−0.25,17.70/0.00,33.33/0.25,48.97/0.50,64.60/0.75,80.24/1.00,95.87/1.25}}{
  \foreach \c in {1,...,8}{
    \begin{scope}[panel={\r}{\c}]
      \foreach \p/\v in \tl {\draw[spine] (0,\p) -- (-2.17,\p);}
    \end{scope}
  }
  \begin{scope}[panel={\r}{1}]
    \foreach \p/\v [count=\i] in \tl {\node[tlab, anchor=east] (yt-\r-\i) at (-4.34,\p) {\v};}
  \end{scope}
}

%% axis labels
\foreach \c/\n in {1/acousticness, 2/danceability, 3/energy, 4/instrumentalness,
    5/liveness, 6/speechiness, 7/tempo, 8/valence}
  \node[tlab, anchor=base] (xl-\c) at ({82.3+(\c-1)*235.6+112}, 1952.5) {\n};
\foreach \r/\n/\lx in {1/acousticness/17, 2/danceability/36, 3/energy/26.7, 4/instrumentalness/15.7,
    5/liveness/36, 6/speechiness/36.7, 7/tempo/31.5, 8/valence/15}
  \node[tlab, rotate=90] (yl-\r) at (\lx, {10.7+(\r-1)*239.4+112.8}) {\n};

%% legend
\node[tlab] (lg-title) at (2015,951) {cluster};
\foreach \k/\lab/\yy in {0/0.0/972, 1/1.0/993, 2/2.0/1013}{
  \coordinate (lg-a\k) at (1983,\yy);
  \coordinate (lg-b\k) at (2012,\yy);
  \draw[c\k] (lg-a\k) -- (lg-b\k);
  \node[tlab, anchor=west] (lg-\k) at (2024,\yy) {\lab};
}
\end{tikzpicture}
\end{document}
